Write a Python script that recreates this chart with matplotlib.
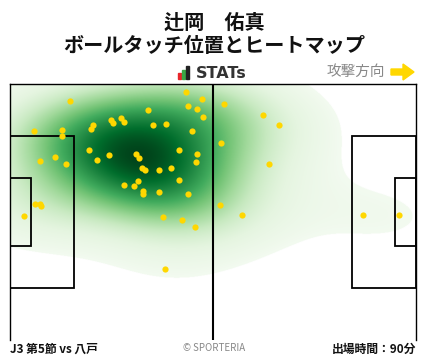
import numpy as np
import matplotlib
matplotlib.use('Agg')
import matplotlib.pyplot as plt
from matplotlib.patches import Rectangle, Polygon

plt.rcParams['font.family'] = ['Noto Sans CJK JP', 'DejaVu Sans']

# ball touch positions (m), x: 0-105 attacking to the right, y: 0 at top
touch_x = [45.5, 15.6, 49.7, 46.1, 48.4, 35.8, 50.0, 26.2, 26.7, 28.8,
           29.6, 21.5, 21.0, 37.1, 40.4, 6.3, 13.5, 13.5, 47.1, 55.4,
           65.5, 69.6, 54.6, 67.1, 54.4, 60.1, 91.4, 100.7, 20.5, 22.6,
           25.7, 32.7, 33.4, 43.8, 48.4, 48.2, 11.7, 7.8, 14.6, 34.2,
           35.0, 38.6, 41.7, 43.8, 33.2, 32.1, 29.6, 34.5, 34.5, 38.6,
           46.1, 6.5, 7.8, 8.1, 3.7, 39.6, 44.6, 47.9, 40.2]
touch_y = [2.2, 4.6, 4.1, 5.9, 6.7, 7.0, 8.8, 9.6, 10.4, 9.1,
           10.2, 11.0, 12.0, 11.0, 10.7, 12.6, 12.3, 13.8, 12.6, 5.4,
           8.3, 11.0, 15.8, 21.3, 32.2, 34.9, 34.9, 34.9, 17.6, 20.3,
           18.9, 18.7, 19.7, 17.6, 18.7, 20.8, 19.5, 20.5, 21.3, 22.4,
           22.9, 22.9, 22.4, 25.6, 25.8, 27.2, 26.9, 28.5, 29.3, 28.8,
           29.3, 32.0, 32.0, 32.5, 35.1, 35.4, 36.2, 38.1, 49.2]

player = '辻岡　佑真'
subtitle = 'ボールタッチ位置とヒートマップ'
match_label = 'J3 第5節 vs 八戸'
minutes_label = '出場時間：90分'

L, W = 105.0, 68.0

fig = plt.figure(figsize=(4.28, 3.59), dpi=100)
ax = fig.add_axes([10/428, 1-340/359, 406/428, 256/359])

# kde (scott bandwidth, widened), coloured by iso-proportion like seaborn
pts = np.vstack([touch_x, touch_y])
n = pts.shape[1]
factor = n ** (-1/6) * 1.5
cov = np.cov(pts) * factor**2
inv = np.linalg.inv(cov)
gx = np.linspace(0, L, 812)
gy = np.linspace(0, W, 512)
X, Y = np.meshgrid(gx, gy)
dens = np.zeros_like(X)
for px, py in zip(touch_x, touch_y):
    dx = X - px
    dy = Y - py
    dens += np.exp(-0.5*(inv[0, 0]*dx*dx + 2*inv[0, 1]*dx*dy + inv[1, 1]*dy*dy))
flat = np.sort(dens.ravel())
cum = np.cumsum(flat)
cum /= cum[-1]
frac = np.interp(dens, flat, cum)
thresh = 0.04
val = (frac - thresh) / (1 - thresh)
rgba = plt.get_cmap('Greens')(np.clip(0.03 + 0.97*val, 0, 1))
rgba[..., 3] = np.where(val < 0, 0.0, 1.0)
ax.imshow(rgba, extent=[0, L, W, 0], origin='upper', aspect='auto',
          interpolation='antialiased', zorder=1)

# pitch
lw = 1.3
for x0, w in [(0, 16.5), (L-16.5, 16.5)]:
    ax.add_patch(Rectangle((x0, (W-40.32)/2), w, 40.32, fill=False, ec='black', lw=lw, zorder=3))
for x0, w in [(0, 5.5), (L-5.5, 5.5)]:
    ax.add_patch(Rectangle((x0, (W-18.32)/2), w, 18.32, fill=False, ec='black', lw=lw, zorder=3))
ax.plot([L/2, L/2], [0, W], color='black', lw=1.5, zorder=3)

ax.scatter(touch_x, touch_y, s=20, color='#FFD700', linewidths=0, zorder=4)

ax.set_xlim(0, L)
ax.set_ylim(W, 0)
ax.set_xticks([])
ax.set_yticks([])
for side in ['top', 'left', 'right']:
    ax.spines[side].set_linewidth(1.0)
ax.spines['bottom'].set_visible(False)

# header
fig.text(0.5, 1-22/359, player, ha='center', va='center', fontsize=14.5, fontweight='bold', color='#111111')
fig.text(0.5, 1-46/359, subtitle, ha='center', va='center', fontsize=14.5, fontweight='bold', color='#111111')

# stats logo
for bx, bh, c in [(177.5, 6, '#e8262b'), (181.5, 9, '#3aa845'), (185.5, 13, '#222222')]:
    fig.patches.append(Rectangle((bx/428, 1-79/359), 3/428, bh/359, transform=fig.transFigure,
                                 color=c, figure=fig))
fig.text(196/428, 1-73/359, 'STATs', ha='left', va='center', fontsize=11.5,
         fontweight='bold', color='#333333', family='DejaVu Sans')

fig.text(385/428, 1-72/359, '攻撃方向', ha='right', va='center', fontsize=10.5, color='#888888')
arrow = [(391, 69), (403, 69), (403, 64), (414, 72), (403, 80), (403, 75), (391, 75)]
fig.patches.append(Polygon([(x/428, 1-y/359) for x, y in arrow], closed=True,
                           transform=fig.transFigure, color='#FFD700', figure=fig))

# footer
fig.text(10/428, 1-349/359, match_label, ha='left', va='center', fontsize=8.5, fontweight='bold', color='#111111')
fig.text(0.5, 1-348/359, '© SPORTERIA', ha='center', va='center', fontsize=7, color='#888888')
fig.text(416/428, 1-349/359, minutes_label, ha='right', va='center', fontsize=8.5, fontweight='bold', color='#111111')

fig.savefig('out.png', dpi=100)
